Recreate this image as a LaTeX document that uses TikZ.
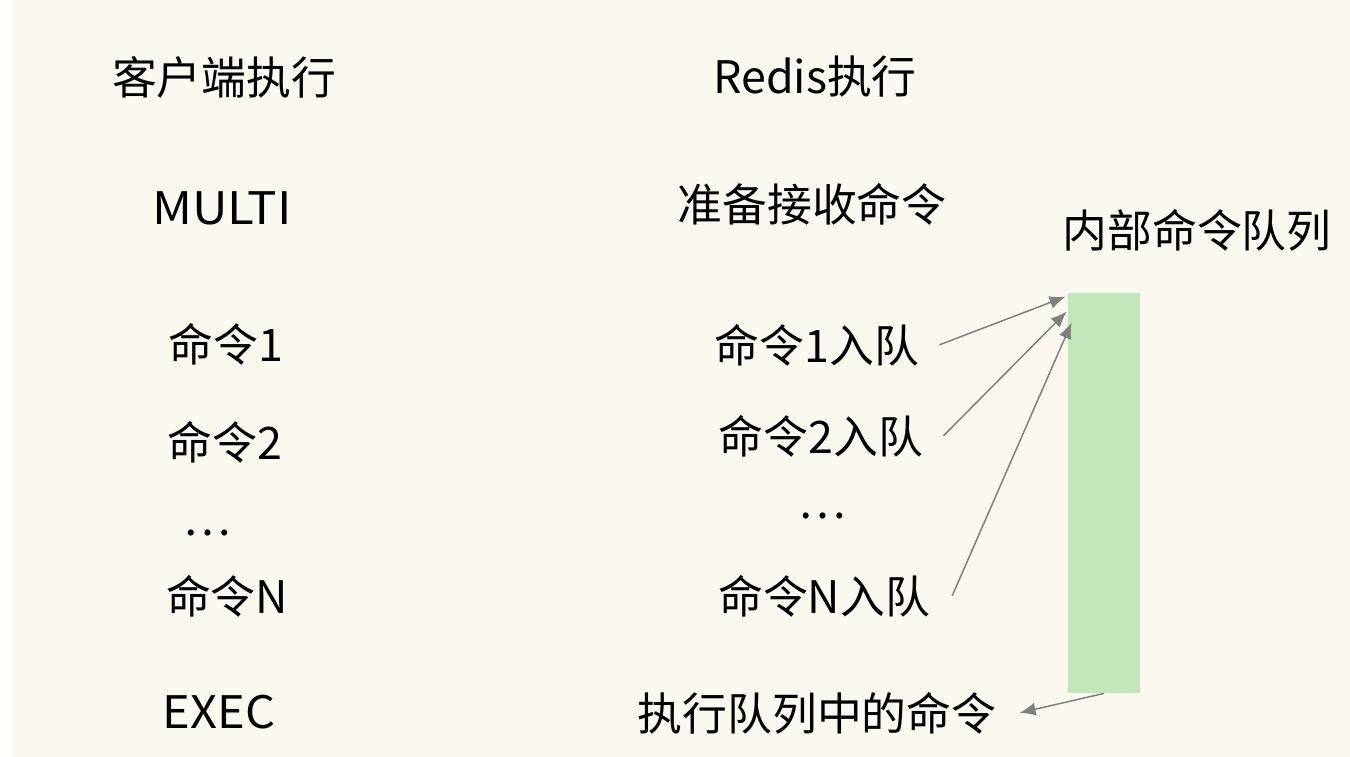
\documentclass[tikz,border=0pt]{standalone}
\usepackage{fontspec}
\setmainfont{Noto Sans CJK SC}
\usetikzlibrary{arrows.meta}
\definecolor{paper}{HTML}{FAF8EF}
\definecolor{queuegreen}{HTML}{C1E7BB}
\definecolor{arrowgray}{HTML}{808080}

\begin{document}
\begin{tikzpicture}[x=0.5pt,y=-0.5pt,>={Latex[length=8pt,width=6.5pt]},
	txt/.style={anchor=base,inner sep=0pt,font=\fontsize{22.4}{26}\selectfont},
	queuebar/.style={fill=queuegreen,inner sep=0pt,minimum width=36pt,minimum height=200pt},
	feed/.style={->,draw=arrowgray,line width=0.75pt}]
					
					\useasboundingbox (0,0) rectangle (1350,756);
					\fill[white] (-10,-10) rectangle (1360,770);
					\fill[paper] (13,-10) rectangle (1360,770);
					
					\node[txt] (client) at (224,94) {客户端执行};
					\node[txt,xscale=1.1] (multi) at (222,224) {MULTI};
					\node[txt] (cmdA) at (226,361) {命令1};
					\node[txt] (cmdB) at (225,459) {命令2};
					\node[txt,anchor=center] (dotsL) at (207,533) {…};
					\node[txt] (cmdN) at (227,613) {命令N};
					\node[txt,xscale=1.05] (exec) at (219,728) {EXEC};
					
					\node[txt] (redis) at (815,93) {Redis执行};
					\node[txt] (ready) at (812,221) {准备接收命令};
					\node[txt] (enqA) at (817,362) {命令1入队};
					\node[txt] (enqB) at (821,453) {命令2入队};
					\node[txt,anchor=center] (dotsR) at (822,516) {…};
					\node[txt] (enqN) at (824,613) {命令N入队};
					\node[txt] (run) at (817,730) {执行队列中的命令};
					
					\node[txt] (qlabel) at (1197,247) {内部命令队列};
					\node[queuebar] (Q) at (1104,493) {};
					
					\draw[feed] ([xshift=10pt]enqA.east) -- ([xshift=-1pt,yshift=-2pt]Q.north west);
					\draw[feed] ([xshift=10pt]enqB.east) -- ([xshift=-0.5pt,yshift=-9.5pt]Q.north west);
					\draw[feed] ([xshift=11pt]enqN.east) -- ([xshift=2pt,yshift=-15pt]Q.north west);
					\draw[feed] (Q.south) -- ([xshift=11.5pt]run.east);
					\end{tikzpicture}
\end{document}
